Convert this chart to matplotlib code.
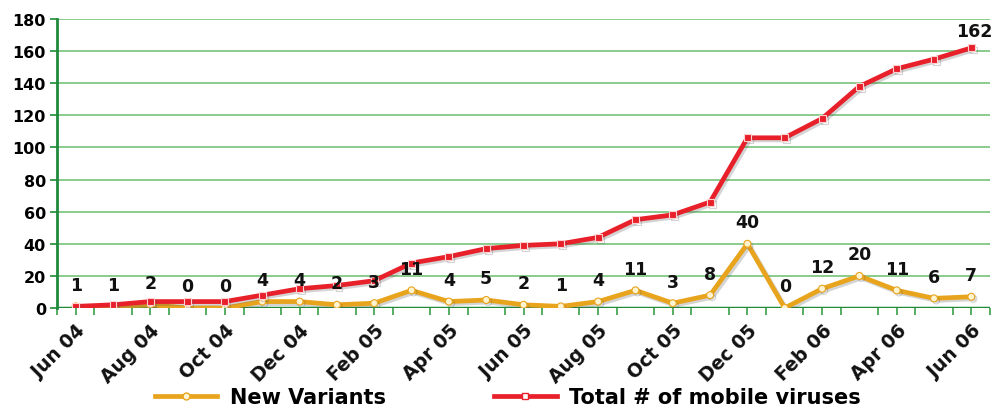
import matplotlib
matplotlib.use("Agg")
import matplotlib.pyplot as plt
import matplotlib.patheffects as pe
from matplotlib.lines import Line2D

months = ["Jun 04", "Jul 04", "Aug 04", "Sep 04", "Oct 04", "Nov 04", "Dec 04",
          "Jan 05", "Feb 05", "Mar 05", "Apr 05", "May 05", "Jun 05", "Jul 05",
          "Aug 05", "Sep 05", "Oct 05", "Nov 05", "Dec 05", "Jan 06", "Feb 06",
          "Mar 06", "Apr 06", "May 06", "Jun 06"]
new_variants = [1, 1, 2, 0, 0, 4, 4, 2, 3, 11, 4, 5, 2, 1, 4, 11, 3, 8, 40, 0,
                12, 20, 11, 6, 7]
total_viruses = [1, 2, 4, 4, 4, 8, 12, 14, 17, 28, 32, 37, 39, 40, 44, 55, 58,
                 66, 106, 106, 118, 138, 149, 155, 162]
y_ticks = [0, 20, 40, 60, 80, 100, 120, 140, 160, 180]

ORANGE = "#e8a41c"
RED = "#e8202a"
GRID = "#6cbf70"
DARK_GREEN = "#1f8a3a"

fig = plt.figure(figsize=(9.92, 4.10), dpi=100)
ax = fig.add_axes([57 / 992, 1 - 309 / 410, 933 / 992, 289 / 410])

x = list(range(len(months)))
shadow = [pe.SimpleLineShadow(offset=(1.5, -1.5), alpha=0.25, shadow_color="#555555"),
          pe.Normal()]

# Gridlines
for t in y_ticks[1:]:
    ax.axhline(t, color=GRID, linewidth=1.4, alpha=0.8, zorder=0)
ax.axhline(0, color=DARK_GREEN, linewidth=2.5, zorder=1)

ax.plot(x, new_variants, color=ORANGE, linewidth=3.4, marker="o", markersize=5,
        markerfacecolor="#fff3d0", markeredgecolor=ORANGE, markeredgewidth=0.8,
        path_effects=shadow, zorder=3)
ax.plot(x, total_viruses, color=RED, linewidth=3.4, marker="s", markersize=5,
        markerfacecolor=RED, markeredgecolor="#ffd0d0", markeredgewidth=0.8,
        path_effects=shadow, zorder=4)

for xi, v in zip(x, new_variants):
    ax.annotate(str(v), (xi, v), xytext=(0, 9), textcoords="offset points",
                ha="center", va="bottom", fontsize=12.5, fontweight="bold",
                color="#111111", zorder=5)
ax.annotate(str(total_viruses[-1]), (x[-1], total_viruses[-1]), xytext=(2, 6),
            textcoords="offset points", ha="center", va="bottom", fontsize=12.5,
            fontweight="bold", color="#111111", zorder=5)

ax.set_xlim(-0.5, len(months) - 0.5)
ax.set_ylim(0, 180)
ax.set_yticks(y_ticks)
ax.set_yticklabels([str(t) for t in y_ticks], fontsize=11.5, fontweight="bold")
ax.set_xticks(x[::2])
ax.set_xticklabels(months[::2], rotation=45, ha="right", rotation_mode="anchor",
                   fontsize=13.5, fontweight="bold", color="#111111")
ax.set_xticks([i + 0.5 for i in range(-1, len(months))], minor=True)
ax.tick_params(axis="y", length=5, width=1.2, color=DARK_GREEN, pad=3)
ax.tick_params(axis="x", which="both", length=5, width=1.2, color="#3aa04a",
               pad=4)

for s in ["top", "right", "bottom"]:
    ax.spines[s].set_visible(False)
ax.spines["left"].set_color(DARK_GREEN)
ax.spines["left"].set_linewidth(2)

handles = [
    Line2D([], [], color=ORANGE, linewidth=3.4, marker="o", markersize=5,
           markerfacecolor="#fff3d0", markeredgecolor=ORANGE),
    Line2D([], [], color=RED, linewidth=3.4, marker="s", markersize=5,
           markerfacecolor="white", markeredgecolor=RED),
]
fig.legend(handles, ["New Variants", "Total # of mobile viruses"],
           loc="center", bbox_to_anchor=(0.512, 12 / 410), ncol=2,
           frameon=False, handlelength=3.0, columnspacing=5.2,
           handletextpad=0.6, prop={"weight": "bold", "size": 15})

fig.savefig("out.png", dpi=100)
